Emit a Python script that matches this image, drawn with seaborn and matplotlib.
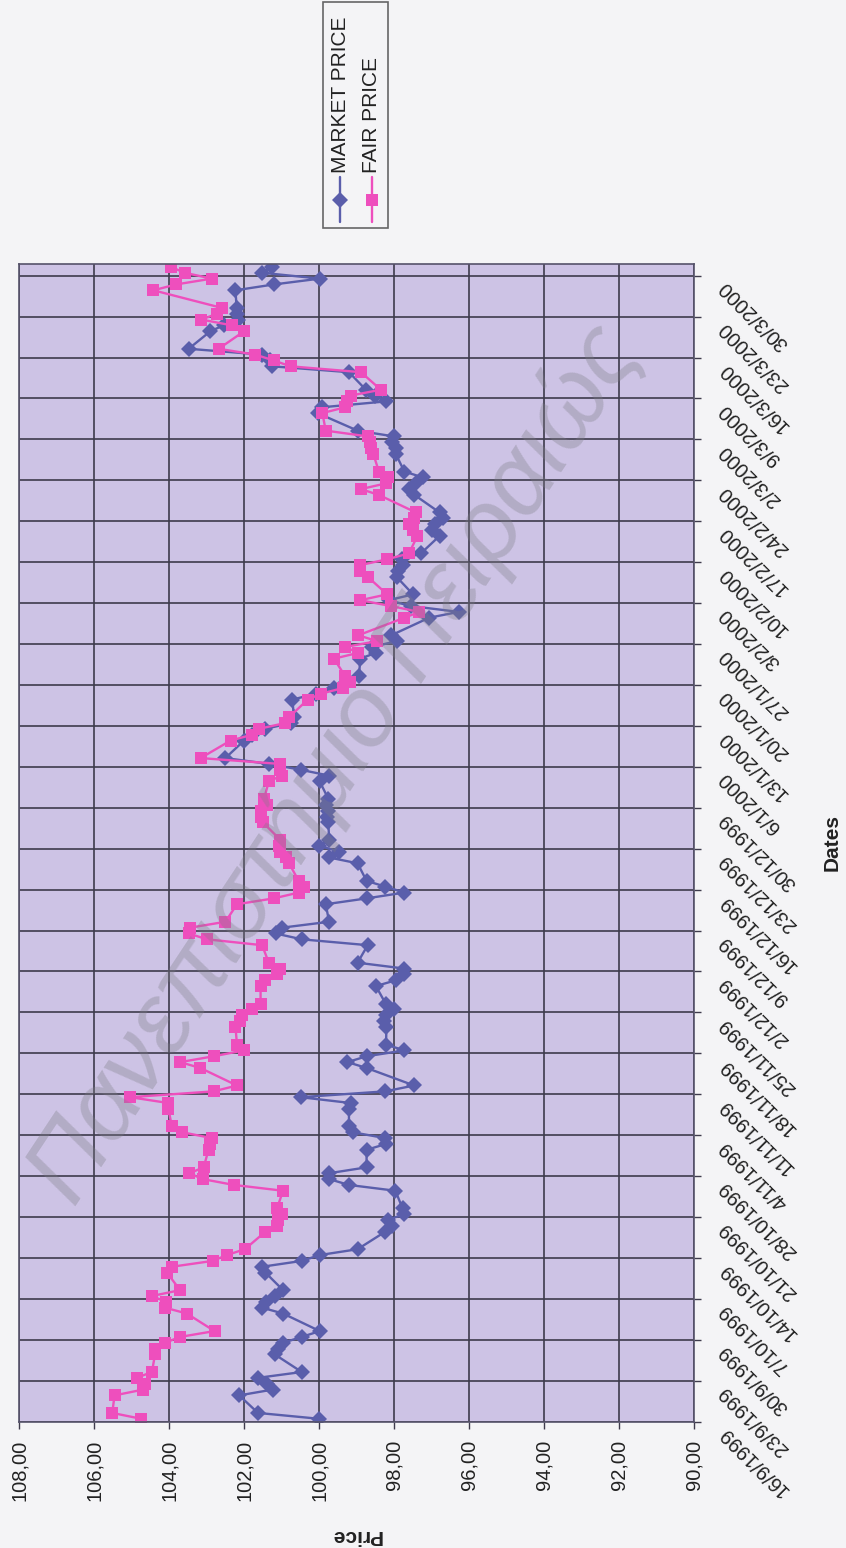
import pandas as pd
import matplotlib
matplotlib.use("Agg")
import matplotlib.pyplot as plt
import matplotlib.transforms as mtransforms
from matplotlib.lines import Line2D
from matplotlib.patches import Rectangle
import seaborn as sns

# ---- data -----------------------------------------------------------------
trade_dates = pd.bdate_range("1999-09-16", "2000-03-31")

market_price = [
    100.00, 101.63,
    102.13, 101.23, 101.38, 101.63, 100.46,
    101.18, 101.10, 100.96, 100.46, 99.98,
    100.96, 101.52, 101.41, 101.18, 100.96,
    101.43, 101.52, 100.46, 99.98, 98.97,
    98.23, 98.04, 98.17, 97.72, 97.77,
    97.96, 99.21, 99.73, 99.73, 98.73,
    98.73, 98.21, 98.23, 99.10, 99.20,
    99.20, 99.15, 100.49, 98.23, 97.46,
    98.73, 99.24, 98.73, 97.72, 98.21,
    98.20, 98.26, 98.21, 97.99, 98.22,
    98.48, 97.95, 97.72, 97.72, 98.97,
    98.70, 100.46, 101.16, 100.98, 99.73,
    99.82, 98.73, 97.72, 98.23, 98.73,
    98.97, 99.73, 99.46, 100.00, 99.73,
    99.75, 99.78, 99.75, 99.80, 99.75,
    99.98, 99.73, 100.49, 101.34, 102.50,
    102.00, 101.80, 101.43, 100.75, 100.67,
    100.71, 100.09, 99.60, 99.29, 98.93,
    98.90, 98.48, 98.58, 97.93, 98.07,
    97.06, 96.27, 97.55, 98.14, 97.49,
    97.93, 97.90, 97.75, 97.79, 97.28,
    96.78, 96.99, 96.90, 96.70, 96.78,
    97.45, 97.60, 97.40, 97.23, 97.72,
    97.95, 97.95, 98.04, 97.99, 98.97,
    100.04, 99.91, 98.21, 98.50, 98.75,
    99.20, 101.25, 101.30, 101.52, 103.48,
    102.90, 102.55, 102.15, 102.19, 102.20,
    102.23, 101.21, 99.98, 101.52, 101.25,
]

fair_price = [
    104.75, 105.52,
    105.46, 104.69, 104.64, 104.87, 104.46,
    104.38, 104.38, 104.11, 103.71, 102.79,
    103.53, 104.11, 104.09, 104.46, 103.71,
    104.06, 103.93, 102.84, 102.46, 101.98,
    101.43, 101.12, 101.09, 100.98, 101.12,
    100.96, 102.28, 103.11, 103.46, 103.08,
    102.95, 102.90, 102.86, 103.65, 103.93,
    104.02, 104.02, 105.04, 102.81, 102.19,
    103.17, 103.71, 102.81, 102.01, 102.19,
    102.23, 102.10, 102.05, 101.79, 101.56,
    101.56, 101.43, 101.12, 101.03, 101.34,
    101.52, 102.99, 103.48, 103.44, 102.50,
    102.19, 101.21, 100.54, 100.40, 100.54,
    100.80, 100.89, 101.03, 101.07, 101.03,
    101.50, 101.56, 101.55, 101.40, 101.47,
    101.34, 101.00, 101.05, 101.05, 103.16,
    102.36, 101.78, 101.60, 100.90, 100.80,
    100.30, 99.95, 99.35, 99.16, 99.30,
    99.60, 98.95, 99.30, 98.45, 98.95,
    97.72, 97.32, 98.08, 98.90, 98.18,
    98.70, 98.90, 98.90, 98.18, 97.60,
    97.37, 97.50, 97.59, 97.45, 97.41,
    98.40, 98.88, 98.20, 98.17, 98.40,
    98.55, 98.60, 98.63, 98.68, 99.82,
    99.91, 99.30, 99.24, 99.15, 98.35,
    98.88, 100.76, 101.21, 101.70, 102.68,
    102.00, 102.32, 103.14, 102.72, 102.60,
    104.42, 103.82, 102.86, 103.59, 103.95,
]

series_names = ["MARKET PRICE", "FAIR PRICE"]
price_ticks = [90, 92, 94, 96, 98, 100, 102, 104, 106, 108]
date_ticks = pd.date_range("1999-09-16", "2000-03-30", freq="7D")
date_labels = [f"{d.day}/{d.month}/{d.year}" for d in date_ticks]

# ---- style ----------------------------------------------------------------
sns.set_theme(style="white")
plt.rcParams["font.family"] = ["Liberation Sans", "DejaVu Sans"]

BG = "#f4f4f6"
PLOT_BG = "#cdc3e5"
GRID = "#3e3b4c"
BLUE = "#5a5eab"
PINK = "#ee4fbd"
colors = {series_names[0]: BLUE, series_names[1]: PINK}
markers = {series_names[0]: "D", series_names[1]: "s"}

fig = plt.figure(figsize=(8.46, 15.48), dpi=100, facecolor=BG)
W, H = 846, 1548
ax_l, ax_r, ax_t, ax_b = 19.4, 693.5, 264.0, 1421.7
ax = fig.add_axes([ax_l / W, 1 - ax_b / H, (ax_r - ax_l) / W, (ax_b - ax_t) / H])
ax.set_facecolor(PLOT_BG)

# points sit in the middle of each trading day
df = pd.DataFrame({
    "date": list(trade_dates + pd.Timedelta(hours=12)) * 2,
    "price": market_price + fair_price,
    "series": [series_names[0]] * len(market_price) + [series_names[1]] * len(fair_price),
})

sns.lineplot(
    data=df, x="price", y="date", hue="series", style="series",
    palette=colors, markers=markers, dashes=False, orient="y",
    sort=False, estimator=None, legend=False, ax=ax,
    linewidth=1.7, markersize=8, markeredgewidth=0,
)

ax.set_xlim(108, 90)
ax.set_ylim(pd.Timestamp("1999-09-16"), pd.Timestamp("2000-04-01"))

# price axis (bottom)
ax.set_xticks(price_ticks)
ax.set_xticklabels([f"{v:.2f}".replace(".", ",") for v in price_ticks])
ax.tick_params(axis="x", bottom=True, direction="out", length=5, width=1,
               color=GRID, labelsize=14.5, pad=8, labelcolor="#222222")
for lbl in ax.get_xticklabels():
    lbl.set_rotation(90)
    lbl.set_ha("center")
    lbl.set_va("top")

# date axis (right)
ax.set_yticks(date_ticks)
ax.set_yticklabels(date_labels)
ax.tick_params(axis="y", left=False, right=True, labelleft=False, labelright=True,
               direction="out", length=5, width=1, color=GRID,
               labelsize=14.5, pad=15.5, labelcolor="#222222")
shift = mtransforms.ScaledTranslation(0, -8 / 100, fig.dpi_scale_trans)
for lbl in ax.get_yticklabels():
    lbl.set_rotation(135)
    lbl.set_rotation_mode("anchor")
    lbl.set_ha("right")
    lbl.set_va("center")
    lbl.set_transform(lbl.get_transform() + shift)

ax.grid(True, color=GRID, linewidth=1.2)
ax.set_axisbelow(True)
for side, sp in ax.spines.items():
    sp.set_color("#55526a")
    sp.set_linewidth(1.2)

# axis titles
ax.set_xlabel("Price", fontsize=15, fontweight="bold", rotation=180,
              ha="center", va="center", color="#222222")
ax.xaxis.set_label_coords(0.5, (ax_b - 1535) / (ax_b - ax_t))
ax.yaxis.set_label_position("right")
ax.set_ylabel("Dates", fontsize=15, fontweight="bold", rotation=90,
              ha="center", va="center", color="#222222")
ax.yaxis.set_label_coords((832 - ax_l) / (ax_r - ax_l), 0.5)

# legend box, drawn upright along the page edge
def fx(px):
    return px / W

def fy(py):
    return 1 - py / H

fig.patches.append(Rectangle((fx(322.7), fy(228.3)), fx(388.3) - fx(322.7),
                             fy(1.7) - fy(228.3), transform=fig.transFigure,
                             facecolor=BG, edgecolor="#666666", linewidth=1.2))
for name, xpx in zip(series_names, [340.0, 371.7]):
    fig.lines.append(Line2D([fx(xpx), fx(xpx)], [fy(222), fy(177)],
                            transform=fig.transFigure, color=colors[name],
                            linewidth=1.7))
    fig.lines.append(Line2D([fx(xpx)], [fy(200)], transform=fig.transFigure,
                            color=colors[name], marker=markers[name],
                            markersize=8, markeredgewidth=0, linestyle="none"))
    fig.text(fx(xpx), fy(173), name, rotation=90, ha="center", va="bottom",
             fontsize=15, color="#222222")

# watermark across the plot
fig.text(fx(335), fy(765), "Πανεπιστήμιο Πειραιώς", rotation=56.5,
         ha="center", va="center", fontsize=72, style="italic",
         color="#7d7d85", alpha=0.33, zorder=10)

fig.savefig("out.png", dpi=100, facecolor=BG)
